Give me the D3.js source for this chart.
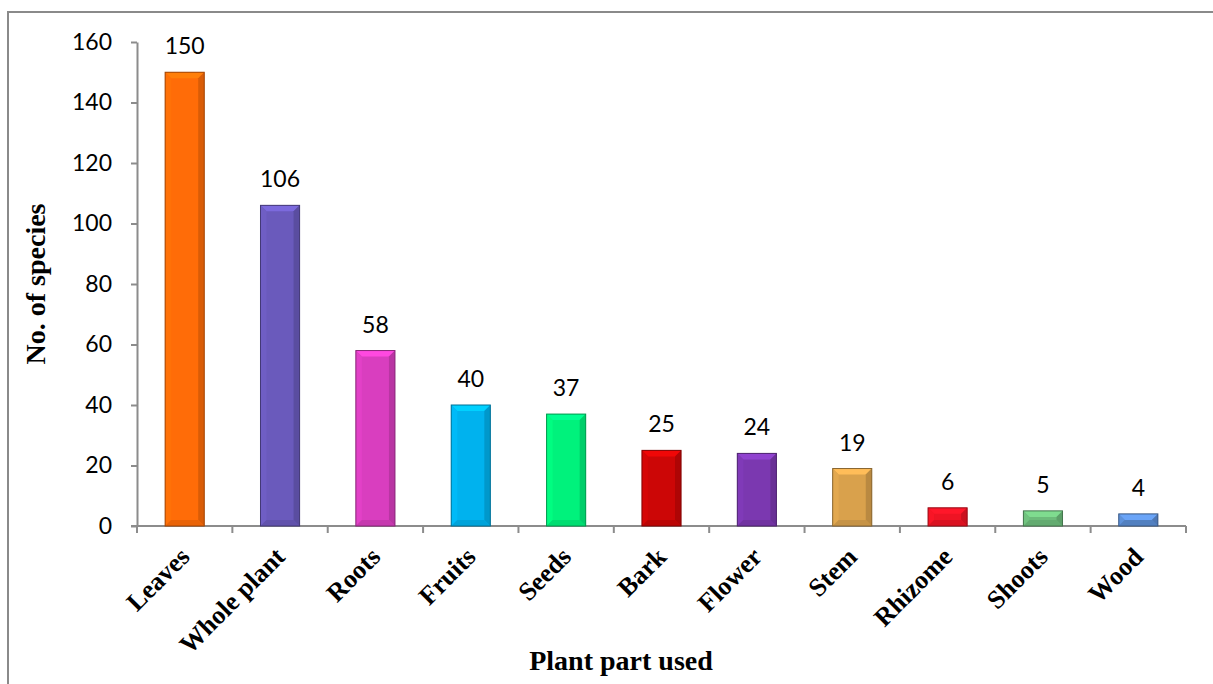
<!DOCTYPE html>
<html>
<head>
<meta charset="utf-8">
<script src="https://cdn.jsdelivr.net/npm/d3@7"></script>
<style>
  html, body { margin: 0; padding: 0; background: #fff; }
  svg { display: block; }
</style>
</head>
<body>
<svg id="chart" width="1213" height="684"></svg>
<script>
// Plant parts used and number of species for each
const categories = ["Leaves", "Whole plant", "Roots", "Fruits", "Seeds", "Bark", "Flower", "Stem", "Rhizome", "Shoots", "Wood"];
const species = [150, 106, 58, 40, 37, 25, 24, 19, 6, 5, 4];
const barColors = ["#ff6c08", "#6a5abc", "#d93ebf", "#00b2ee", "#00f27c", "#cc0606", "#7b38b0", "#d9a14c", "#ee1424", "#6cbb7a", "#5a8cd2"];
const yTicks = [0, 20, 40, 60, 80, 100, 120, 140, 160];
const yTitle = "No. of species";
const xTitle = "Plant part used";

const svg = d3.select("#chart");

// outer chart frame (runs past the right and bottom edges)
svg.append("rect")
  .attr("x", 8).attr("y", 12)
  .attr("width", 1400).attr("height", 900)
  .attr("fill", "#fff")
  .attr("stroke", "#8a8a8a")
  .attr("stroke-width", 2);

const plot = { left: 137, right: 1186, top: 42, bottom: 526 };

const x = d3.scaleBand()
  .domain(categories)
  .range([plot.left, plot.right])
  .paddingInner(0.59)
  .paddingOuter(0.295);

const y = d3.scaleLinear()
  .domain([0, 160])
  .range([plot.bottom, plot.top]);

const axisColor = "#8c8c8c";
const labelFont = "Lato, 'Noto Sans', sans-serif";
const titleFont = "'Liberation Serif', 'Times New Roman', serif";

// y axis
const yAxis = svg.append("g")
  .attr("transform", `translate(${plot.left},0)`)
  .call(d3.axisLeft(y).tickValues(yTicks).tickSize(6).tickPadding(19).tickSizeOuter(0));
yAxis.select(".domain").attr("stroke", axisColor).attr("stroke-width", 2);
yAxis.selectAll(".tick line").attr("stroke", axisColor).attr("stroke-width", 2);
yAxis.selectAll(".tick text")
  .attr("fill", "#000")
  .style("font-family", labelFont)
  .style("font-size", "23px");

// x axis line with ticks at category boundaries
const step = x.step();
const edgeOffset = step * x.paddingInner() / 2;
const boundaries = categories.map(c => x(c) - edgeOffset).concat([plot.right]);
svg.append("line")
  .attr("x1", plot.left - 6).attr("x2", plot.right)
  .attr("y1", y(0)).attr("y2", y(0))
  .attr("stroke", axisColor).attr("stroke-width", 2);
svg.append("g").selectAll("line")
  .data(boundaries)
  .join("line")
  .attr("x1", d => d).attr("x2", d => d)
  .attr("y1", y(0)).attr("y2", y(0) + 7)
  .attr("stroke", axisColor).attr("stroke-width", 2);

// bevelled bars
const bars = svg.append("g").selectAll("g")
  .data(categories.map((c, i) => ({ c, v: species[i], col: barColors[i] })))
  .join("g");

bars.each(function(d) {
  const g = d3.select(this);
  const x0 = x(d.c), x1 = x(d.c) + x.bandwidth();
  const y0 = y(d.v), y1 = y(0);
  const b = Math.min(6, (y1 - y0) / 2);
  const base = d3.color(d.col);
  const poly = pts => "M" + pts.map(p => p.join(",")).join("L") + "Z";
  g.append("rect")
    .attr("x", x0).attr("y", y0)
    .attr("width", x1 - x0).attr("height", y1 - y0)
    .attr("fill", base.formatHex());
  g.append("path")
    .attr("d", poly([[x0, y0], [x1, y0], [x1 - b, y0 + b], [x0 + b, y0 + b]]))
    .attr("fill", base.brighter(0.45).formatHex());
  g.append("path")
    .attr("d", poly([[x0, y0], [x0 + b, y0 + b], [x0 + b, y1 - b], [x0, y1]]))
    .attr("fill", base.brighter(0.12).formatHex());
  g.append("path")
    .attr("d", poly([[x1, y0], [x1 - b, y0 + b], [x1 - b, y1 - b], [x1, y1]]))
    .attr("fill", base.darker(0.45).formatHex());
  g.append("path")
    .attr("d", poly([[x0, y1], [x0 + b, y1 - b], [x1 - b, y1 - b], [x1, y1]]))
    .attr("fill", base.darker(0.25).formatHex());
  g.append("rect")
    .attr("x", x0).attr("y", y0)
    .attr("width", x1 - x0).attr("height", y1 - y0)
    .attr("fill", "none")
    .attr("stroke", base.darker(1.3).formatHex())
    .attr("stroke-width", 1);
});

// value labels
svg.append("g").selectAll("text")
  .data(categories.map((c, i) => ({ c, v: species[i] })))
  .join("text")
  .attr("x", d => x(d.c) + x.bandwidth() / 2)
  .attr("y", d => y(d.v) - 18)
  .attr("text-anchor", "middle")
  .attr("fill", "#000")
  .style("font-family", labelFont)
  .style("font-size", "23px")
  .text(d => d.v);

// rotated category labels
svg.append("g").selectAll("text")
  .data(categories)
  .join("text")
  .attr("transform", d => `translate(${x(d) + x.bandwidth() / 2},552) rotate(-45)`)
  .attr("dy", "0.35em")
  .attr("text-anchor", "end")
  .attr("fill", "#000")
  .style("font-family", titleFont)
  .style("font-weight", "bold")
  .style("font-size", "26px")
  .text(d => d);

// axis titles
svg.append("text")
  .attr("transform", `translate(45,${(plot.top + plot.bottom) / 2}) rotate(-90)`)
  .attr("text-anchor", "middle")
  .attr("fill", "#000")
  .style("font-family", titleFont)
  .style("font-weight", "bold")
  .style("font-size", "28px")
  .text(yTitle);

svg.append("text")
  .attr("x", 621).attr("y", 670)
  .attr("text-anchor", "middle")
  .attr("fill", "#000")
  .style("font-family", titleFont)
  .style("font-weight", "bold")
  .style("font-size", "28px")
  .text(xTitle);
</script>
</body>
</html>
